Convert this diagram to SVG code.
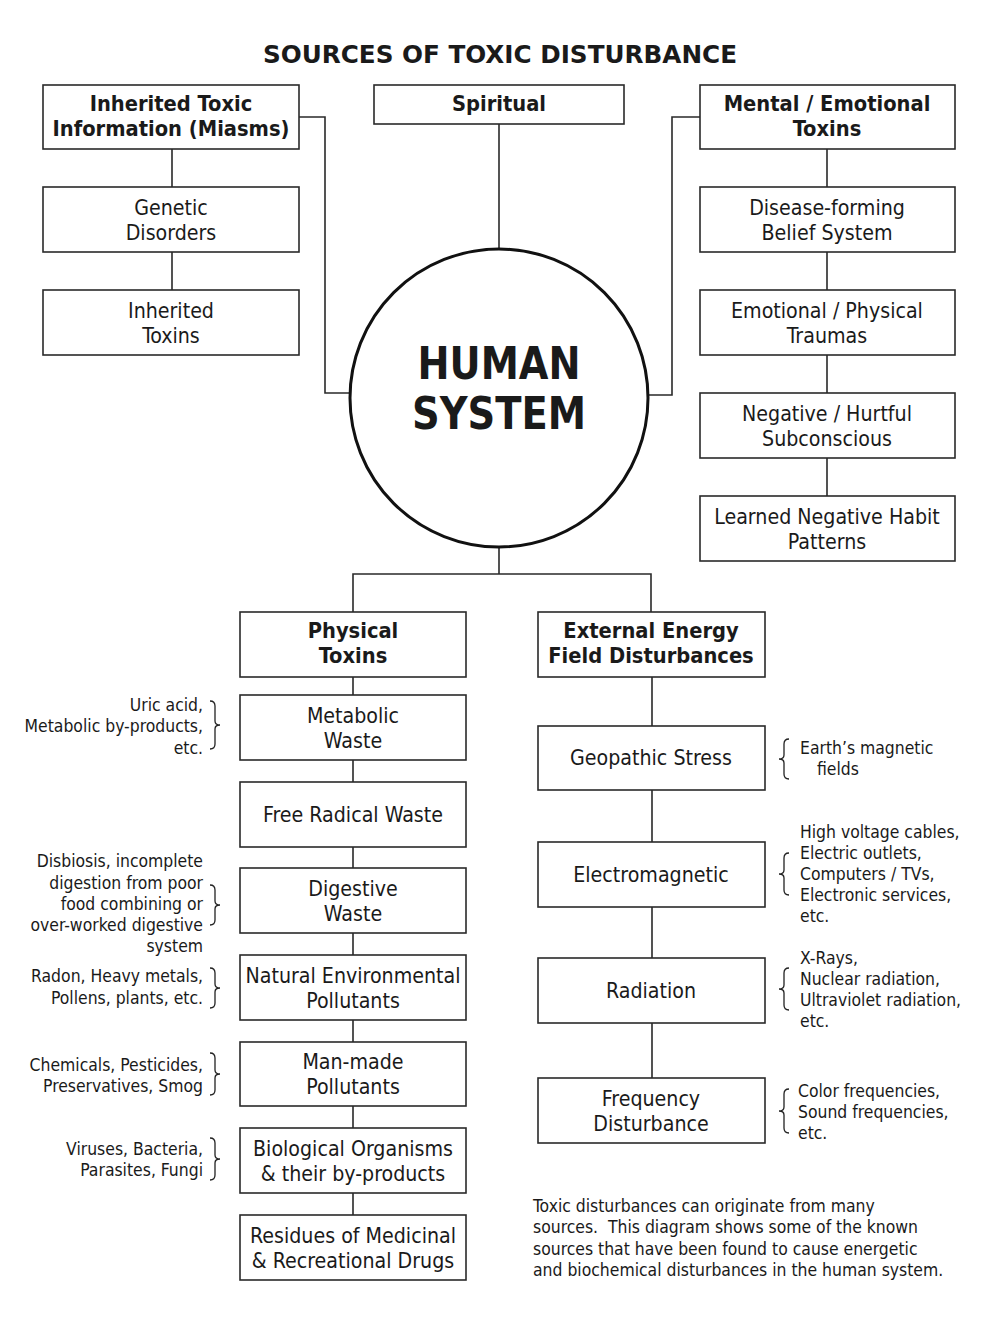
<svg xmlns="http://www.w3.org/2000/svg" width="1000" height="1322" viewBox="0 0 1000 1322">
<style>
.bg{fill:#ffffff}
.box{fill:#ffffff;stroke:#2a2a2a;stroke-width:1.6}
.ln{fill:none;stroke:#2a2a2a;stroke-width:1.6}
.br{fill:none;stroke:#222;stroke-width:1.3}
text{font-family:"DejaVu Sans Condensed","DejaVu Sans","Liberation Sans",sans-serif;fill:#1a1a1a}
.t{font-size:21.2px;text-anchor:middle}
.h{font-size:21.7px;font-weight:bold;text-anchor:middle}
.nl{font-size:17.4px;text-anchor:end}
.nr{font-size:17.4px;text-anchor:start}
.p{font-size:17.4px}
</style>
<rect class="bg" x="0" y="0" width="1000" height="1322"/>
<text x="500" y="63" font-size="25" font-weight="bold" text-anchor="middle" textLength="474" lengthAdjust="spacingAndGlyphs">SOURCES OF TOXIC DISTURBANCE</text>

<g id="connectors">
<path class="ln" d="M172 149 V187 M172 252 V290"/>
<path class="ln" d="M299 117 H325 V393 H352"/>
<path class="ln" d="M499 124 V249"/>
<path class="ln" d="M700 117 H672 V395 H647"/>
<path class="ln" d="M827 149 V187 M827 252 V290 M827 355 V393 M827 458 V496"/>
<path class="ln" d="M499 547 V574 M353 612 V574 H651 V612"/>
<path class="ln" d="M353 677 V695 M353 760 V782 M353 847 V868 M353 933 V955 M353 1020 V1042 M353 1106 V1128 M353 1193 V1215"/>
<path class="ln" d="M652 677 V726 M652 790 V842 M652 907 V958 M652 1023 V1078"/>
</g>

<g id="inherited">
<rect class="box" x="43" y="85" width="256" height="64"/>
<text class="h" x="171" y="111">Inherited Toxic</text>
<text class="h" x="171" y="136">Information (Miasms)</text>
</g>
<g id="genetic">
<rect class="box" x="43" y="187" width="256" height="65"/>
<text class="t" x="171" y="215">Genetic</text>
<text class="t" x="171" y="240">Disorders</text>
</g>
<g id="inherited-toxins">
<rect class="box" x="43" y="290" width="256" height="65"/>
<text class="t" x="171" y="318">Inherited</text>
<text class="t" x="171" y="343">Toxins</text>
</g>

<g id="spiritual">
<rect class="box" x="374" y="85" width="250" height="39"/>
<text class="h" x="499" y="111">Spiritual</text>
</g>

<g id="human-system">
<circle cx="499" cy="398" r="149" fill="#fff" stroke="#111" stroke-width="3"/>
<text x="499" y="379" font-size="44" font-weight="bold" text-anchor="middle" textLength="163" lengthAdjust="spacingAndGlyphs">HUMAN</text>
<text x="499" y="429" font-size="44" font-weight="bold" text-anchor="middle" textLength="174" lengthAdjust="spacingAndGlyphs">SYSTEM</text>
</g>

<g id="mental">
<rect class="box" x="700" y="85" width="255" height="64"/>
<text class="h" x="827" y="111">Mental / Emotional</text>
<text class="h" x="827" y="136">Toxins</text>
</g>
<g id="disease-forming">
<rect class="box" x="700" y="187" width="255" height="65"/>
<text class="t" x="827" y="215">Disease-forming</text>
<text class="t" x="827" y="240">Belief System</text>
</g>
<g id="emotional-physical">
<rect class="box" x="700" y="290" width="255" height="65"/>
<text class="t" x="827" y="318">Emotional / Physical</text>
<text class="t" x="827" y="343">Traumas</text>
</g>
<g id="negative">
<rect class="box" x="700" y="393" width="255" height="65"/>
<text class="t" x="827" y="421">Negative / Hurtful</text>
<text class="t" x="827" y="446">Subconscious</text>
</g>
<g id="learned">
<rect class="box" x="700" y="496" width="255" height="65"/>
<text class="t" x="827" y="524">Learned Negative Habit</text>
<text class="t" x="827" y="549">Patterns</text>
</g>

<g id="physical">
<rect class="box" x="240" y="612" width="226" height="65"/>
<text class="h" x="353" y="638">Physical</text>
<text class="h" x="353" y="663">Toxins</text>
</g>
<g id="external">
<rect class="box" x="538" y="612" width="227" height="65"/>
<text class="h" x="651" y="638">External Energy</text>
<text class="h" x="651" y="663">Field Disturbances</text>
</g>

<g id="metabolic">
<rect class="box" x="240" y="695" width="226" height="65"/>
<text class="t" x="353" y="723">Metabolic</text>
<text class="t" x="353" y="748">Waste</text>
</g>
<g id="free-radical">
<rect class="box" x="240" y="782" width="226" height="65"/>
<text class="t" x="353" y="822">Free Radical Waste</text>
</g>
<g id="digestive">
<rect class="box" x="240" y="868" width="226" height="65"/>
<text class="t" x="353" y="896">Digestive</text>
<text class="t" x="353" y="921">Waste</text>
</g>
<g id="natural">
<rect class="box" x="240" y="955" width="226" height="65"/>
<text class="t" x="353" y="983">Natural Environmental</text>
<text class="t" x="353" y="1008">Pollutants</text>
</g>
<g id="man-made">
<rect class="box" x="240" y="1042" width="226" height="64"/>
<text class="t" x="353" y="1069">Man-made</text>
<text class="t" x="353" y="1094">Pollutants</text>
</g>
<g id="biological">
<rect class="box" x="240" y="1128" width="226" height="65"/>
<text class="t" x="353" y="1156">Biological Organisms</text>
<text class="t" x="353" y="1181">&amp; their by-products</text>
</g>
<g id="residues">
<rect class="box" x="240" y="1215" width="226" height="65"/>
<text class="t" x="353" y="1243">Residues of Medicinal</text>
<text class="t" x="353" y="1268">&amp; Recreational Drugs</text>
</g>

<g id="geopathic">
<rect class="box" x="538" y="726" width="227" height="64"/>
<text class="t" x="651" y="765">Geopathic Stress</text>
</g>
<g id="electromagnetic">
<rect class="box" x="538" y="842" width="227" height="65"/>
<text class="t" x="651" y="882">Electromagnetic</text>
</g>
<g id="radiation">
<rect class="box" x="538" y="958" width="227" height="65"/>
<text class="t" x="651" y="998">Radiation</text>
</g>
<g id="frequency">
<rect class="box" x="538" y="1078" width="227" height="65"/>
<text class="t" x="651" y="1106">Frequency</text>
<text class="t" x="651" y="1131">Disturbance</text>
</g>

<g id="notes-left">
<path class="br" d="M210 701 Q215 701 215 706 L215 721 Q215 725 220 725 Q215 725 215 729 L215 744 Q215 749 210 749"/>
<text class="nl" x="203" y="711">Uric acid,</text>
<text class="nl" x="203" y="732">Metabolic by-products,</text>
<text class="nl" x="203" y="754">etc.</text>

<path class="br" d="M210 885 Q215 885 215 890 L215 901 Q215 905 220 905 Q215 905 215 909 L215 920 Q215 925 210 925"/>
<text class="nl" x="203" y="867">Disbiosis, incomplete</text>
<text class="nl" x="203" y="889">digestion from poor</text>
<text class="nl" x="203" y="910">food combining or</text>
<text class="nl" x="203" y="931">over-worked digestive</text>
<text class="nl" x="203" y="952">system</text>

<path class="br" d="M210 968 Q215 968 215 973 L215 984 Q215 988 220 988 Q215 988 215 992 L215 1003 Q215 1008 210 1008"/>
<text class="nl" x="203" y="982">Radon, Heavy metals,</text>
<text class="nl" x="203" y="1004">Pollens, plants, etc.</text>

<path class="br" d="M210 1053 Q215 1053 215 1058 L215 1070 Q215 1074 220 1074 Q215 1074 215 1078 L215 1090 Q215 1095 210 1095"/>
<text class="nl" x="203" y="1071">Chemicals, Pesticides,</text>
<text class="nl" x="203" y="1092">Preservatives, Smog</text>

<path class="br" d="M210 1138 Q215 1138 215 1143 L215 1155 Q215 1159 220 1159 Q215 1159 215 1163 L215 1175 Q215 1180 210 1180"/>
<text class="nl" x="203" y="1155">Viruses, Bacteria,</text>
<text class="nl" x="203" y="1176">Parasites, Fungi</text>
</g>

<g id="notes-right">
<path class="br" d="M789 739 Q784 739 784 744 L784 755 Q784 759 779 759 Q784 759 784 763 L784 774 Q784 779 789 779"/>
<text class="nr" x="800" y="754">Earth’s magnetic</text>
<text class="nr" x="817" y="775">fields</text>

<path class="br" d="M789 853 Q784 853 784 858 L784 870 Q784 874 779 874 Q784 874 784 878 L784 890 Q784 895 789 895"/>
<text class="nr" x="800" y="838">High voltage cables,</text>
<text class="nr" x="800" y="859">Electric outlets,</text>
<text class="nr" x="800" y="880">Computers / TVs,</text>
<text class="nr" x="800" y="901">Electronic services,</text>
<text class="nr" x="800" y="922">etc.</text>

<path class="br" d="M789 968 Q784 968 784 973 L784 985 Q784 989 779 989 Q784 989 784 993 L784 1005 Q784 1010 789 1010"/>
<text class="nr" x="800" y="964">X-Rays,</text>
<text class="nr" x="800" y="985">Nuclear radiation,</text>
<text class="nr" x="800" y="1006">Ultraviolet radiation,</text>
<text class="nr" x="800" y="1027">etc.</text>

<path class="br" d="M789 1089 Q784 1089 784 1094 L784 1107 Q784 1111 779 1111 Q784 1111 784 1115 L784 1128 Q784 1133 789 1133"/>
<text class="nr" x="798" y="1097">Color frequencies,</text>
<text class="nr" x="798" y="1118">Sound frequencies,</text>
<text class="nr" x="798" y="1139">etc.</text>
</g>

<g id="caption">
<text class="p" x="533" y="1212">Toxic disturbances can originate from many</text>
<text class="p" x="533" y="1233" xml:space="preserve">sources.  This diagram shows some of the known</text>
<text class="p" x="533" y="1255">sources that have been found to cause energetic</text>
<text class="p" x="533" y="1276">and biochemical disturbances in the human system.</text>
</g>
</svg>
